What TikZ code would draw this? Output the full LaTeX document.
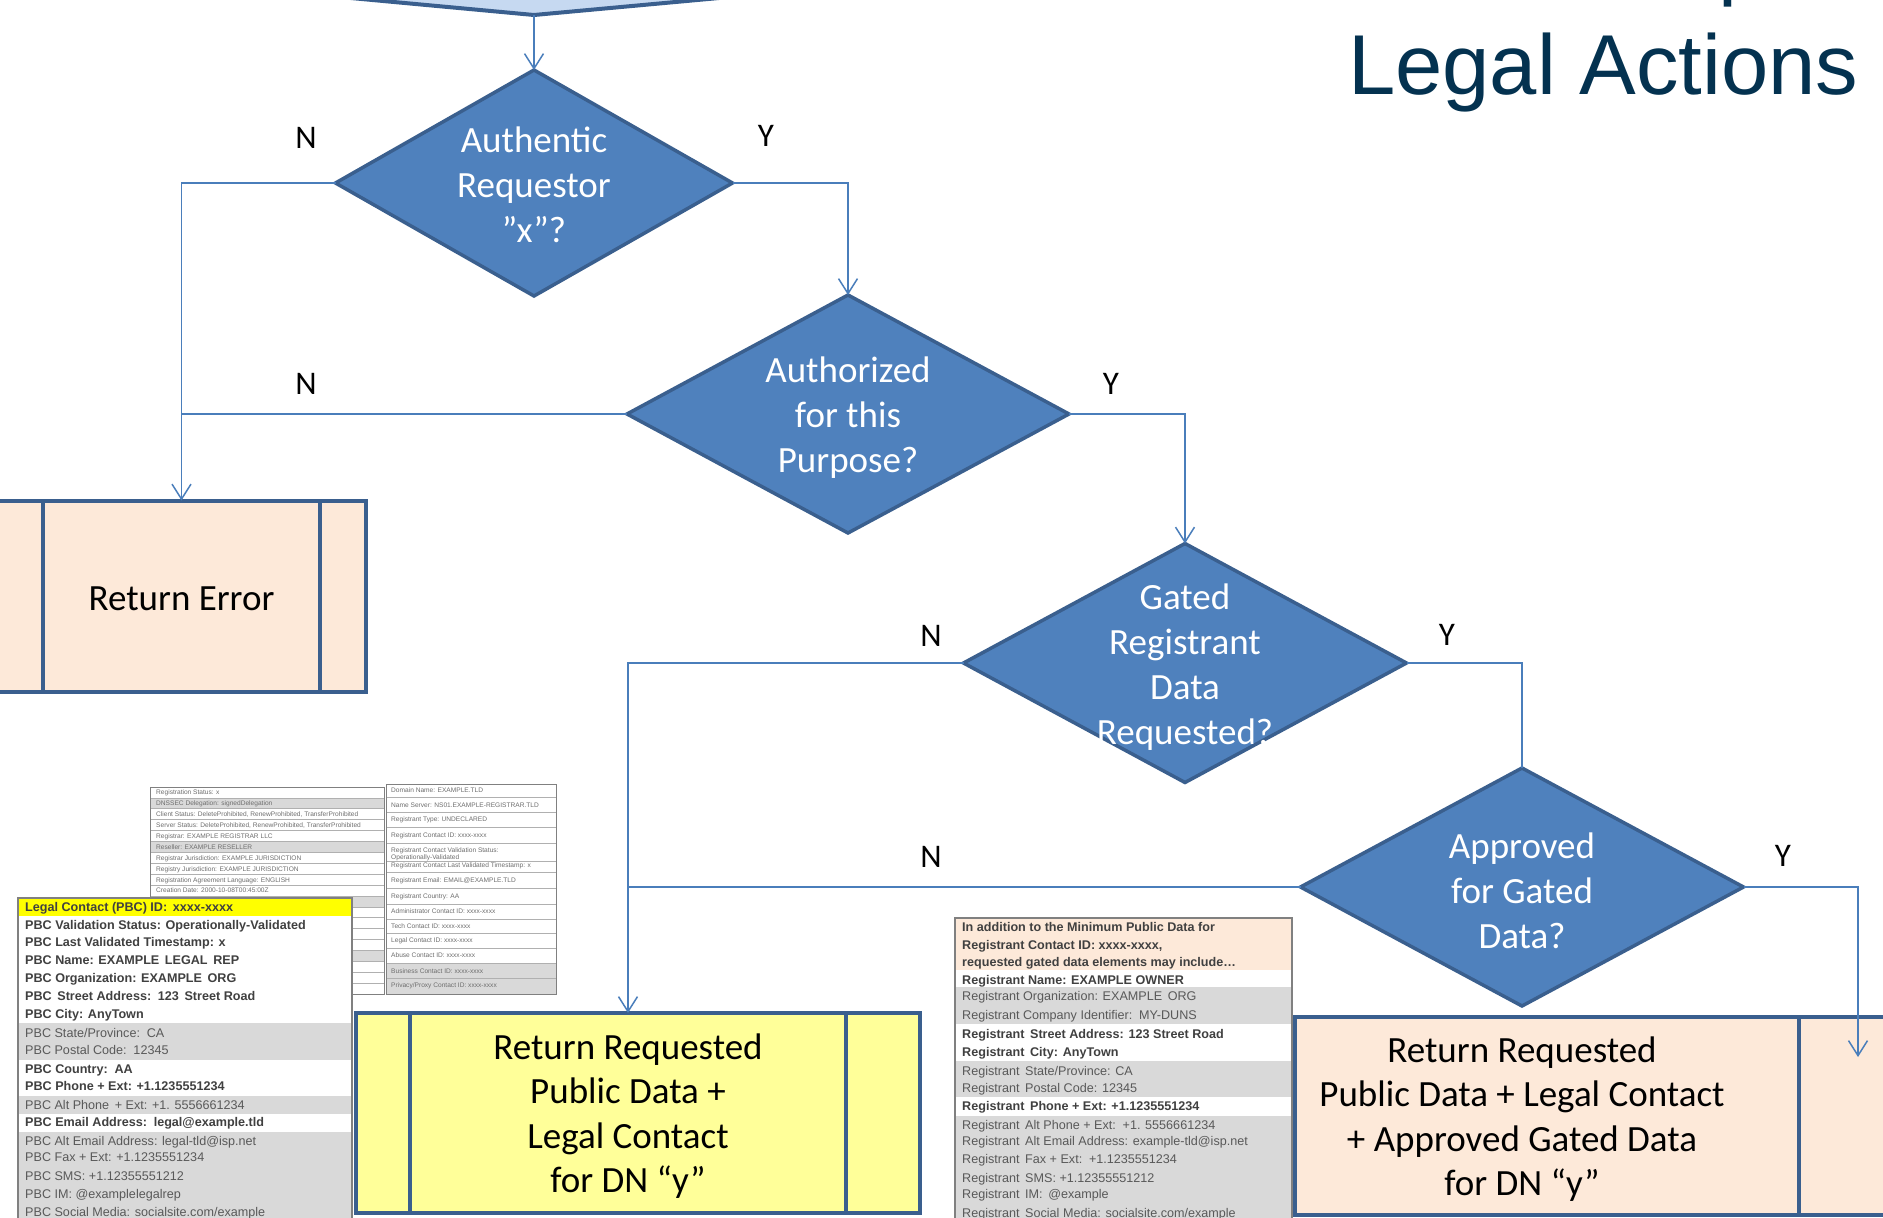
\documentclass[tikz,border=0pt]{standalone}
\usepackage{fontspec}
\setmainfont{Carlito}
\newfontfamily\arialf{Liberation Sans}
\usetikzlibrary{shapes.geometric,arrows.meta}
\definecolor{dblue}{HTML}{4F81BD}
\definecolor{bord}{HTML}{3A5F8E}
\definecolor{lineb}{HTML}{4A7EBB}
\definecolor{peach}{HTML}{FDE9D9}
\definecolor{lyellow}{HTML}{FFFF99}
\definecolor{lblue}{HTML}{C6D9F1}
\definecolor{titlec}{RGB}{4,50,80}
\definecolor{rowgray}{HTML}{D9D9D9}
\definecolor{tdark}{HTML}{404040}
\definecolor{tgray}{HTML}{595959}
\definecolor{ybright}{HTML}{FFFF00}
\definecolor{tborder}{HTML}{808080}
\definecolor{faint}{HTML}{6E6E6E}
\definecolor{rowline}{HTML}{B0B0B0}
\begin{document}
\begin{tikzpicture}[x=1pt,y=-1pt,
  dia/.style={diamond, draw=bord, line width=3.5pt, fill=dblue, inner sep=0pt, outer sep=0pt},
  diat/.style={text=white, font=\fontsize{37}{45}\selectfont, align=center, inner sep=0pt, yshift=-4pt},
  lbl/.style={font=\fontsize{33}{40}\selectfont, inner sep=0pt},
  conn/.style={draw=lineb, line width=1.5pt, -{Straight Barb[length=15pt,width=19pt]}},
  link/.style={draw=lineb, line width=1.5pt},
  procbox/.style={rectangle, draw=bord, line width=4pt, inner sep=0pt, outer sep=0pt},
  innerl/.style={draw=bord, line width=4pt},
  boxt/.style={font=\fontsize{37}{44.5}\selectfont, align=center, inner sep=0pt, yshift=-3pt},
  tb/.style={anchor=base west, inner sep=0pt, font=\arialf\bfseries\fontsize{12.6}{14}\selectfont, text=tdark},
  tn/.style={anchor=base west, inner sep=0pt, font=\arialf\fontsize{12.6}{14}\selectfont, text=tgray},
  sm/.style={anchor=base west, inner sep=0pt, font=\arialf\fontsize{6.6}{7.2}\selectfont, text=faint},
  tline/.style={draw=tborder, line width=1.2pt},
  rline/.style={draw=rowline, line width=0.8pt}
]
\useasboundingbox (0,0) rectangle (1883,1218);

% title
\node[anchor=base west, inner sep=0pt, font=\arialf\fontsize{85}{100}\selectfont, text=titlec] (titlep) at (1718.6,-10) {p};
\node[anchor=base west, inner sep=0pt, font=\arialf\fontsize{85}{100}\selectfont, text=titlec] (title) at (1348,94) {Legal Actions};

% top chevron (cut off)
\draw[fill=lblue, draw=bord, line width=4pt] (340,-3) -- (534,15) -- (730,-3) -- (730,-40) -- (340,-40) -- cycle;
\coordinate (chev) at (534,15);

% diamonds
\node[dia, minimum width=397pt, minimum height=226pt] (d1) at (534,183) {};
\node[diat, yshift=2.5pt] (t1) at (d1.center) {Authentic\\Requestor\\”x”?};
\node[dia, minimum width=442pt, minimum height=238pt] (d2) at (848,414) {};
\node[diat] (t2) at (d2.center) {Authorized\\for this\\Purpose?};
\node[dia, minimum width=443pt, minimum height=239pt] (d3) at (1185,663) {};
\node[diat] (t3) at (d3.center) {Gated\\Registrant\\Data\\Requested?};
\node[dia, minimum width=443pt, minimum height=238pt] (d4) at (1522,887) {};
\node[diat] (t4) at (d4.center) {Approved\\for Gated\\Data?};

% Return Error box
\node[procbox, fill=peach, minimum width=369pt, minimum height=191pt] (re) at (181.5,596) {};
\draw[innerl] ([xshift=46pt]re.north west) -- ([xshift=46pt]re.south west);
\draw[innerl] ([xshift=-46pt]re.north east) -- ([xshift=-46pt]re.south east);
\node[boxt] (ret) at (re.center) {Return Error};

% yellow box
\node[procbox, fill=lyellow, minimum width=564pt, minimum height=200pt] (yb) at (638,1113) {};
\draw[innerl] ([xshift=54pt]yb.north west) -- ([xshift=54pt]yb.south west);
\draw[innerl] ([xshift=-74pt]yb.north east) -- ([xshift=-74pt]yb.south east);
\node[boxt] (yt) at ([xshift=-10pt]yb.center) {Return Requested\\Public Data +\\Legal Contact\\for DN “y”};

% registrant table
\fill[peach] (955,918) rectangle (1292,970);
\fill[white] (955,970) rectangle (1292,987);
\fill[rowgray] (955,987) rectangle (1292,1024);
\fill[white] (955,1024) rectangle (1292,1061);
\fill[rowgray] (955,1061) rectangle (1292,1097);
\fill[white] (955,1097) rectangle (1292,1116);
\fill[rowgray] (955,1116) rectangle (1292,1225);
\draw[tline] (955,1225) -- (955,918) -- (1292,918) -- (1292,1225);
\node[tb] (r1) at (962,931.8) {In addition to the Minimum Public Data for};
\node[tb] (r2) at (962,949.2) {Registrant Contact ID: xxxx-xxxx,};
\node[tb] (r3) at (962,966.8) {requested gated data elements may include…};
\node[tb] (r4) at (962,984.2) {Registrant Name: EXAMPLE OWNER};
\node[tn] (r5) at (962,1000.8) {Registrant Organization: EXAMPLE\, ORG};
\node[tn] (r6) at (962,1019.8) {Registrant Company Identifier:\, MY-DUNS};
\node[tb] (r7) at (962,1038.2) {Registrant\, Street Address: 123 Street Road};
\node[tb] (r8) at (962,1056.5) {Registrant\, City: AnyTown};
\node[tn] (r9) at (962,1075.5) {Registrant\, State/Province: CA};
\node[tn] (r10) at (962,1092.5) {Registrant\, Postal Code: 12345};
\node[tb] (r11) at (962,1110.5) {Registrant\, Phone + Ext: +1.1235551234};
\node[tn] (r12) at (962,1129.5) {Registrant\, Alt Phone + Ext:\, +1. 5556661234};
\node[tn] (r13) at (962,1145.8) {Registrant\, Alt Email Address: example-tld@isp.net};
\node[tn] (r14) at (962,1163.2) {Registrant\, Fax + Ext:\, +1.1235551234};
\node[tn] (r15) at (962,1182.2) {Registrant\, SMS: +1.12355551212};
\node[tn] (r16) at (962,1198.8) {Registrant\, IM:\, @example};
\node[tn] (r17) at (962,1217.2) {Registrant\, Social Media: socialsite.com/example};

% right peach box
\node[procbox, fill=peach, minimum width=615pt, minimum height=198pt] (pb) at (1602.5,1116) {};
\draw[innerl] ([xshift=504pt]pb.north west) -- ([xshift=504pt]pb.south west);
\node[boxt] (pt) at ([xshift=-80.5pt]pb.center) {Return Requested\\Public Data + Legal Contact\\+ Approved Gated Data\\for DN “y”};

% background (faded) public data table - left column
\foreach \i in {0,...,18} {
  \pgfmathsetmacro{\yt}{787+10.9*\i}
  \pgfmathsetmacro{\yb}{787+10.9*(\i+1)}
  \fill[white] (150,\yt) rectangle (384,\yb);
}
\fill[rowgray] (150,797.9) rectangle (384,808.8);
\fill[rowgray] (150,841.5) rectangle (384,852.4);
\fill[rowgray] (150,896) rectangle (384,906.9);
\fill[rowgray] (150,950.5) rectangle (384,961.4);
\foreach \i in {0,...,19} {
  \pgfmathsetmacro{\yt}{787+10.9*\i}
  \draw[rline] (150,\yt) -- (384,\yt);
}
\draw[tline, line width=0.8pt] (150,787) rectangle (384,994);
\node[sm] (b1) at (156,794.8) {Registration Status: x};
\node[sm] (b2) at (156,805.7) {DNSSEC Delegation: signedDelegation};
\node[sm] (b3) at (156,816.6) {Client Status: DeleteProhibited, RenewProhibited, TransferProhibited};
\node[sm] (b4) at (156,827.5) {Server Status: DeleteProhibited, RenewProhibited, TransferProhibited};
\node[sm] (b5) at (156,838.4) {Registrar: EXAMPLE REGISTRAR LLC};
\node[sm] (b6) at (156,849.3) {Reseller: EXAMPLE RESELLER};
\node[sm] (b7) at (156,860.2) {Registrar Jurisdiction: EXAMPLE JURISDICTION};
\node[sm] (b8) at (156,871.1) {Registry Jurisdiction: EXAMPLE JURISDICTION};
\node[sm] (b9) at (156,882.0) {Registration Agreement Language: ENGLISH};
\node[sm] (b10) at (156,892.9) {Creation Date: 2000-10-08T00:45:00Z};

% background table - right column
\fill[white] (386,784) rectangle (556,994);
\fill[rowgray] (386,963) rectangle (556,994);
\foreach \yy in {784,797,812,827,843,861,872,888,904,919,933,948,963,978,994} {
  \draw[rline] (386,\yy) -- (556,\yy);
}
\draw[tline, line width=0.8pt] (386,784) rectangle (556,994);
\node[sm] (c1) at (391,792.5) {Domain Name: EXAMPLE.TLD};
\node[sm] (c2) at (391,807.5) {Name Server: NS01.EXAMPLE-REGISTRAR.TLD};
\node[sm] (c3) at (391,821.5) {Registrant Type: UNDECLARED};
\node[sm] (c4) at (391,837.5) {Registrant Contact ID: xxxx-xxxx};
\node[sm] (c5) at (391,852.5) {Registrant Contact Validation Status:};
\node[sm] (c5b) at (391,859.5) {Operationally-Validated};
\node[sm] (c6) at (391,867.5) {Registrant Contact Last Validated Timestamp: x};
\node[sm] (c7) at (391,882.5) {Registrant Email: EMAIL@EXAMPLE.TLD};
\node[sm] (c8) at (391,898.5) {Registrant Country: AA};
\node[sm] (c9) at (391,913.5) {Administrator Contact ID: xxxx-xxxx};
\node[sm] (c10) at (391,928.5) {Tech Contact ID: xxxx-xxxx};
\node[sm] (c11) at (391,942.5) {Legal Contact ID: xxxx-xxxx};
\node[sm] (c12) at (391,957.5) {Abuse Contact ID: xxxx-xxxx};
\node[sm] (c13) at (391,973.5) {Business Contact ID: xxxx-xxxx};
\node[sm] (c14) at (391,987.5) {Privacy/Proxy Contact ID: xxxx-xxxx};

% PBC table
\fill[ybright] (18,898) rectangle (352,916);
\fill[white] (18,916) rectangle (352,1023);
\fill[rowgray] (18,1023) rectangle (352,1060);
\fill[white] (18,1060) rectangle (352,1096);
\fill[rowgray] (18,1096) rectangle (352,1114);
\fill[white] (18,1114) rectangle (352,1132);
\fill[rowgray] (18,1132) rectangle (352,1225);
\draw[tline] (18,1225) -- (18,898) -- (352,898) -- (352,1225);
\node[tb] (p1) at (25,911.8) {Legal Contact (PBC) ID:\, xxxx-xxxx};
\node[tb] (p2) at (25,929.2) {PBC Validation Status: Operationally-Validated};
\node[tb] (p3) at (25,946.5) {PBC Last Validated Timestamp: x};
\node[tb] (p4) at (25,964.5) {PBC Name: EXAMPLE\, LEGAL\, REP};
\node[tb] (p5) at (25,982.2) {PBC Organization: EXAMPLE\, ORG};
\node[tb] (p6) at (25,1000.2) {PBC\, Street Address:\, 123\, Street Road};
\node[tb] (p7) at (25,1018.5) {PBC City: AnyTown};
\node[tn] (p8) at (25,1037.8) {PBC State/Province:\, CA};
\node[tn] (p9) at (25,1054.8) {PBC Postal Code:\, 12345};
\node[tb] (p10) at (25,1073.8) {PBC Country:\, AA};
\node[tb] (p11) at (25,1090.8) {PBC Phone + Ext: +1.1235551234};
\node[tn] (p12) at (25,1109.5) {PBC Alt Phone\, + Ext: +1. 5556661234};
\node[tb] (p13) at (25,1126.8) {PBC Email Address:\, legal@example.tld};
\node[tn] (p14) at (25,1145.5) {PBC Alt Email Address: legal-tld@isp.net};
\node[tn] (p15) at (25,1161.8) {PBC Fax + Ext: +1.1235551234};
\node[tn] (p16) at (25,1180.5) {PBC SMS: +1.12355551212};
\node[tn] (p17) at (25,1198.2) {PBC IM: @examplelegalrep};
\node[tn] (p18) at (25,1216.8) {PBC Social Media: socialsite.com/example};

% connectors
\coordinate (aend) at (1858,1057);
\draw[conn] (chev) -- (d1.north);
\draw[conn] (d1.east) -| (d2.north);
\draw[conn] (d1.west) -| (re.north);
\draw[link] (d2.west) -- (d2.west -| re.north);
\draw[conn] (d2.east) -| (d3.north);
\draw[conn] (d3.west) -| (yt.north |- yb.north);
\draw[link] (d3.east) -| (d4.north);
\draw[link] (d4.west) -- (d4.west -| yt.north);
\draw[conn] (d4.east) -| (aend);

% labels
\node[lbl] (n1) at (306,138) {N};
\node[lbl] (y1) at (766,136) {Y};
\node[lbl] (n2) at (306,384) {N};
\node[lbl] (y2) at (1111,384) {Y};
\node[lbl] (n3) at (931,636) {N};
\node[lbl] (y3) at (1447,635) {Y};
\node[lbl] (n4) at (931,857) {N};
\node[lbl] (y4) at (1783,856) {Y};
\end{tikzpicture}
\end{document}
